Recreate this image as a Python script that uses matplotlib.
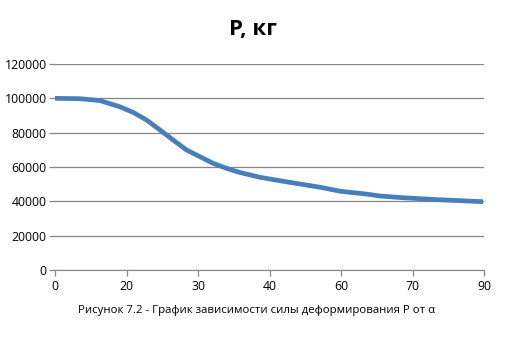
import numpy as np
import matplotlib.pyplot as plt

plt.rcParams['font.family'] = ['Open Sans', 'DejaVu Sans']

# angle (deg) and force P (kg)
alpha = [0, 5.2, 9.4, 13.6, 16.4, 19.2, 22.0, 24.8, 27.6, 30.4, 33.2, 36.0,
         38.8, 43.0, 47.2, 51.4, 55.6, 59.8, 65.4, 68.2, 73.0, 80.1, 86.4, 89.8]
force = [100000, 99800, 98700, 95100, 91800, 87400, 81600, 75700, 69900, 66000,
         62100, 59200, 56800, 54000, 52000, 50100, 48200, 45900, 44200, 43100,
         42100, 41000, 40200, 39800]

tick_pos = np.linspace(0, 90, 7)
tick_labels = ['0', '20', '30', '40', '60', '70', '90']
y_ticks = np.arange(0, 120001, 20000)

fig = plt.figure(figsize=(5.08, 3.5), dpi=100)
ax = fig.add_axes([55 / 508, 80 / 350, 429 / 508, 206 / 350])

ax.plot(alpha, force, color='#4a7ebb', linewidth=3.4, solid_capstyle='butt',
        solid_joinstyle='round')

ax.set_xlim(0, 90)
ax.set_ylim(0, 120000)
ax.set_yticks(y_ticks)
ax.set_yticklabels([str(v) for v in y_ticks])
ax.set_xticks(tick_pos)
ax.set_xticklabels(tick_labels)
ax.grid(axis='y', color='#868686', linewidth=0.9)
ax.set_axisbelow(True)

for side in ['top', 'right', 'left']:
    ax.spines[side].set_visible(False)
ax.spines['bottom'].set_color('#868686')
ax.tick_params(axis='both', colors='#868686', labelcolor='black', labelsize=8.8,
               length=4, width=0.9)
ax.tick_params(axis='y', pad=2)

fig.text(253 / 508, 1 - 30 / 350, 'P, кг', ha='center', va='center',
         fontsize=16, fontweight='bold')
fig.text(78 / 508, 1 - 310 / 350,
         'Рисунок 7.2 - График зависимости силы деформирования P от α',
         ha='left', va='center', fontsize=8.2)

fig.savefig('out.png', dpi=100)
